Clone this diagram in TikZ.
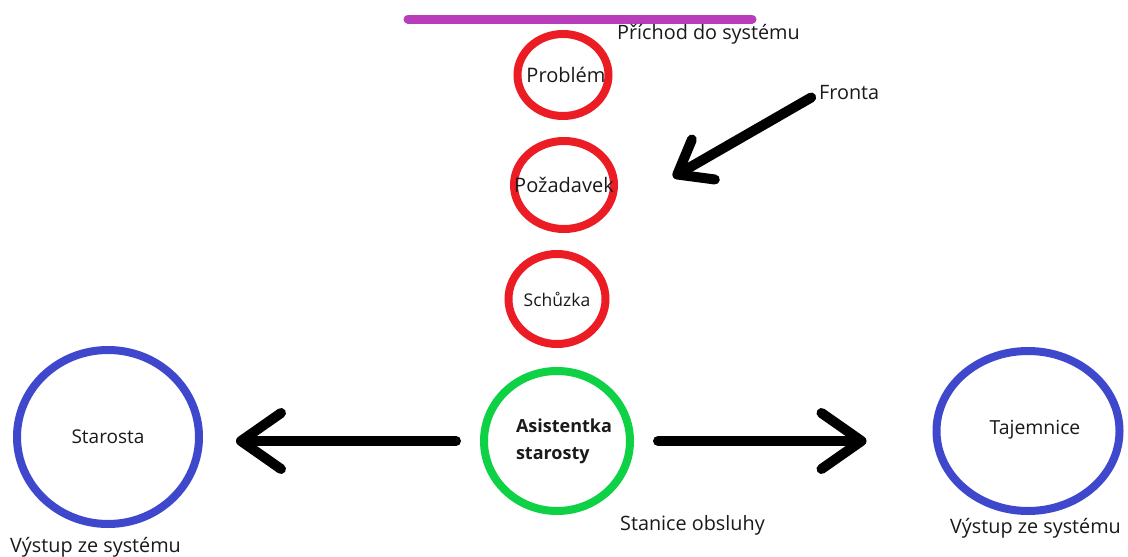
\documentclass[tikz,border=0pt]{standalone}
\usepackage{fontspec}
\setmainfont{Open Sans}
\usetikzlibrary{shapes.geometric,arrows.meta}
\definecolor{pred}{HTML}{EC1C24}
\definecolor{pblue}{HTML}{3F48CC}
\definecolor{pgreen}{HTML}{0ED145}
\definecolor{ppurple}{HTML}{B83DBA}
\definecolor{ptext}{HTML}{1A1A1A}
\newcommand{\zw}[1]{\makebox[0pt]{#1}}
\tikzset{
  circ/.style={ellipse, draw, line width=8pt, inner sep=0pt, text=ptext, font=\fontsize{20}{24}\selectfont},
  redc/.style={circ, draw=pred},
  bluec/.style={circ, draw=pblue},
  greenc/.style={circ, draw=pgreen},
  lbl/.style={anchor=west, inner sep=0pt, text=ptext, font=\fontsize{19.8}{24}\selectfont},
  bigarrow/.style={line width=10pt, line cap=round, -{Straight Barb[length=40pt, width=56pt, round]}},
  qarrow/.style={line width=10pt, line cap=round, -{Straight Barb[length=30pt, width=46pt, round]}},
}
\begin{document}
\begin{tikzpicture}[x=1pt, y=-1pt]
\fill[white] (0,0) rectangle (1128,557);
\useasboundingbox (0,0) rectangle (1128,557);
% entry line
\draw[ppurple, line width=9pt, line cap=round] (408,19) -- (752,19);
% queue
\node[redc, minimum width=91pt, minimum height=82pt] (prob) at (563,75) {\zw{\hspace*{6pt}\raisebox{1pt}{Problém}}};
\node[redc, minimum width=100pt, minimum height=88pt] (poz) at (564,185) {\zw{Požadavek}};
\node[redc, minimum width=97pt, minimum height=90pt, font=\fontsize{17.5}{21}\selectfont] (sch) at (557,299) {\zw{\raisebox{-3pt}{Schůzka}}};
% service
\node[greenc, minimum width=146pt, minimum height=140pt, font=\bfseries\fontsize{18}{27}\selectfont] (asist) at (557,441) {\zw{\hspace*{14pt}\begin{tabular}{@{}l@{}}Asistentka\\starosty\end{tabular}}};
% exits
\node[bluec, minimum width=182pt, minimum height=174pt, font=\fontsize{19}{23}\selectfont] (star) at (108,437) {\zw{\raisebox{-2pt}{Starosta}}};
\node[bluec, minimum width=183pt, minimum height=160pt, font=\fontsize{19.4}{23}\selectfont] (taj) at (1028,431) {\zw{\hspace*{14pt}\raisebox{8pt}{Tajemnice}}};
% labels
\node[lbl] (prichod) at (617,34) {Příchod do systému};
\node[lbl] (fronta) at (819,93) {Fronta};
\node[lbl] (stanice) at (620,525) {Stanice obsluhy};
\node[lbl] (vys1) at (10,547) {Výstup ze systému};
\node[lbl] (vys2) at (950,528) {Výstup ze systému};
% arrows
\coordinate (qtip) at (673,177);
\draw[qarrow, shorten <=9pt] (fronta.west) -- (qtip);
\draw[bigarrow, shorten <=24pt, shorten >=33pt] (asist.west) -- (asist.west -| star.east);
\draw[bigarrow, shorten <=24pt, shorten >=66pt] (asist.east) -- (asist.east -| taj.west);
\end{tikzpicture}
\end{document}
